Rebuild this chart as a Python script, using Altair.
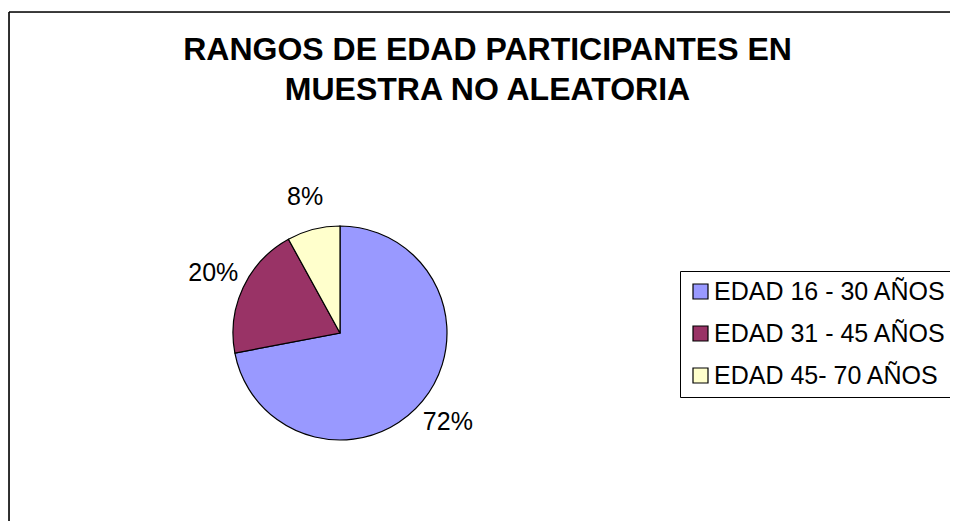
import altair as alt
import pandas as pd

categories = ["EDAD 16 - 30 AÑOS", "EDAD 31 - 45 AÑOS", "EDAD 45- 70 AÑOS"]
values = [72, 20, 8]
labels = ["72%", "20%", "8%"]
order = [0, 1, 2]
colors = ["#9999FF", "#993366", "#FFFFCC"]
title_lines = ["RANGOS DE EDAD PARTICIPANTES EN", "MUESTRA NO ALEATORIA"]

df = pd.DataFrame({"categoria": categories, "valor": values, "etiqueta": labels, "orden": order})

FONT = "Liberation Sans"
CX, CY, R = 331, 321, 107

base = alt.Chart(df).encode(
    theta=alt.Theta("valor:Q", stack=True),
    order=alt.Order("orden:Q"),
)

pie = base.mark_arc(stroke="black", strokeWidth=1.2).encode(
    color=alt.Color(
        "categoria:N",
        sort=categories,
        scale=alt.Scale(domain=categories, range=colors),
        legend=alt.Legend(
            title=None,
            orient="none",
            legendX=671,
            legendY=259,
            strokeColor="black",
            fillColor="white",
            padding=8,
            labelFontSize=25,
            labelFont=FONT,
            labelColor="black",
            labelLimit=0,
            labelOffset=1,
            symbolType="square",
            symbolSize=225,
            symbolStrokeColor="black",
            symbolStrokeWidth=1.2,
            symbolOpacity=1,
            rowPadding=16,
        ),
    ),
    x=alt.value(CX),
    y=alt.value(CY),
    radius=alt.value(R),
)

text = base.mark_text(fontSize=25, font=FONT, color="black", align="center", baseline="middle").encode(
    text="etiqueta:N",
    x=alt.value(CX),
    y=alt.value(CY),
    radius=alt.value(140),
)

marco = pd.DataFrame({"marco": [0]})
frame_top = alt.Chart(marco).mark_rule(stroke="black", strokeWidth=1.6).encode(
    x=alt.value(0), x2=alt.value(2000), y=alt.value(0)
)
frame_left = alt.Chart(marco).mark_rule(stroke="black", strokeWidth=1.6).encode(
    x=alt.value(0), y=alt.value(0), y2=alt.value(2000)
)

chart = (
    alt.layer(frame_top, frame_left, pie, text)
    .properties(
        width=941,
        height=509,
        autosize=alt.AutoSizeParams(type="none"),
        padding={"left": 1, "top": 4, "right": 0, "bottom": 0},
        title=alt.TitleParams(
            text=title_lines,
            font=FONT,
            fontSize=32,
            fontWeight="bold",
            color="black",
            anchor="middle",
            frame="group",
            orient="top",
            baseline="top",
            offset=0,
            dy=96,
            dx=8,
            lineHeight=40,
        ),
    )
    .configure_view(strokeWidth=0)
    .configure(background="white")
)

chart.save("out.html", embed_options={"renderer": "svg", "actions": False})
